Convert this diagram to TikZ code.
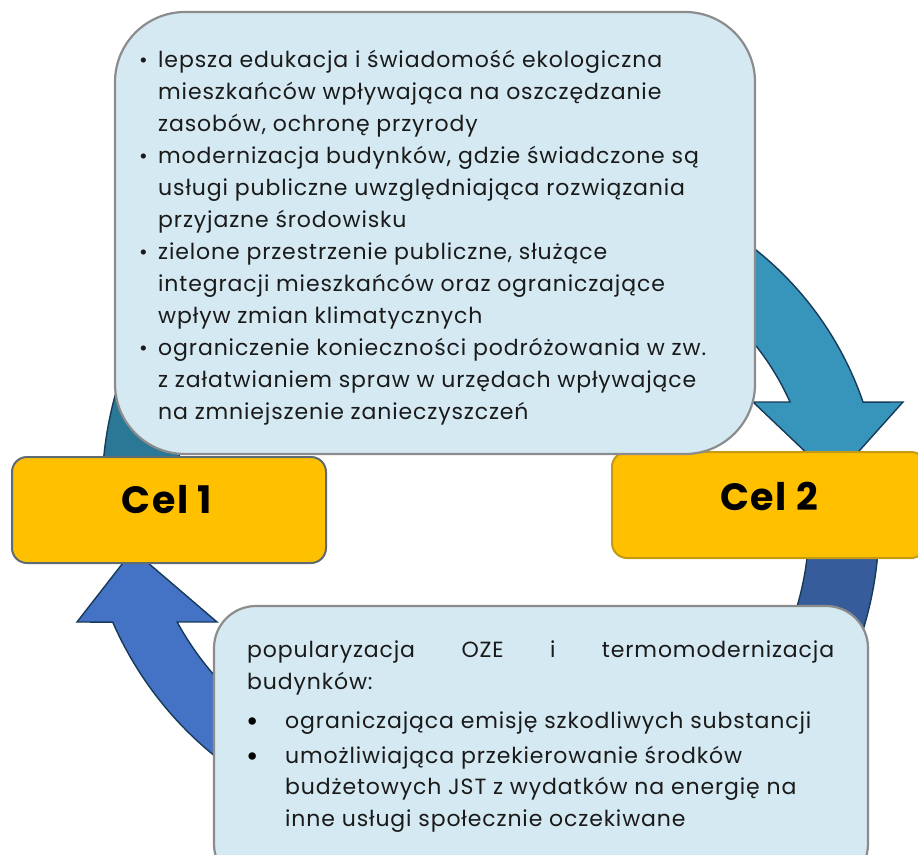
\documentclass[tikz,border=0pt]{standalone}
\usepackage{fontspec}
\setmainfont{Poppins}[LetterSpace=4]
\usetikzlibrary{calc}
\definecolor{infofill}{HTML}{D4E9F2}
\definecolor{infoline}{HTML}{8C8C8C}
\definecolor{gold}{HTML}{FFC000}
\definecolor{celAline}{HTML}{5F6B73}
\definecolor{celBline}{HTML}{C49A12}
\definecolor{arA}{HTML}{2B7896}
\definecolor{arB}{HTML}{3794BA}
\definecolor{arC}{HTML}{365C9C}
\definecolor{arD}{HTML}{4472C4}
\definecolor{arline}{HTML}{173A58}
\definecolor{txtc}{HTML}{1A1A1A}
\begin{document}
\begin{tikzpicture}[x=1pt,y=1pt,
  arrowshape/.style={draw=arline, line width=1.4pt, line join=miter},
  infobox/.style={draw=infoline, fill=infofill, line width=2.2pt, inner sep=0pt},
  celbox/.style={fill=gold, line width=2pt, rounded corners=15pt, minimum width=314pt, minimum height=106pt, inner sep=0pt},
  celtext/.style={inner sep=0pt, font=\fontsize{38}{38}\selectfont\bfseries, text=black},
  txt/.style={anchor=base west, inner sep=0pt, font=\fontsize{22}{22}\selectfont, text=txtc},
  bul/.style={anchor=base, inner sep=0pt, font=\fontsize{21}{21}\selectfont, text=txtc},
  bigbul/.style={anchor=base, inner sep=0pt, font=\fontsize{30}{30}\selectfont, text=black}]
\useasboundingbox (0,0) rectangle (918,-854);

% circle centres of the four curved arrows
\coordinate (cA) at (472,-493);
\coordinate (cB) at (548,-510);
\coordinate (cC) at (519,-524);
\coordinate (cD) at (438,-480);

% arrow A (teal, left, rises from Cel 1 behind the upper box)
\draw[arrowshape, fill=arA] ($(cA)+(185:370pt)$) arc[start angle=185, end angle=128, radius=370pt]
  -- ($(cA)+(128:295pt)$) arc[start angle=128, end angle=185, radius=295pt] -- cycle;

% arrow B (top right, down to Cel 2)
\coordinate (bH1) at (903,-402);
\coordinate (bTip) at (834,-479);
\coordinate (bH2) at (753,-402);
\draw[arrowshape, fill=arB] ($(cB)+(75:333pt)$) arc[start angle=75, end angle=18.9, radius=333pt]
  -- (bH1) -- (bTip) -- (bH2) -- ($(cB)+(24.05:265pt)$)
  arc[start angle=24.05, end angle=75, radius=265pt] -- cycle;

% arrow C (bottom right, from Cel 2 down behind the lower box)
\draw[arrowshape, fill=arC] ($(cC)+(10:360pt)$) arc[start angle=10, end angle=-48, radius=360pt]
  -- ($(cC)+(-48:290pt)$) arc[start angle=-48, end angle=10, radius=290pt] -- cycle;

% arrow D (bottom left, up to Cel 1)
\coordinate (dH1) at (77,-622);
\coordinate (dTip) at (133,-550);
\coordinate (dH2) at (217,-622);
\draw[arrowshape, fill=arD] ($(cD)+(203.6:355pt)$) -- (dH1) -- (dTip) -- (dH2)
  -- ($(cD)+(208.56:297pt)$) arc[start angle=208.56, end angle=245, radius=297pt]
  -- ($(cD)+(245:355pt)$) arc[start angle=245, end angle=203.6, radius=355pt] -- cycle;

% goal boxes
\node[celbox, draw=celAline] (cel1) at (169,-510) {};
\node[celbox, draw=celBline] (cel2) at (769,-505) {};
\node[celtext] (cel1t) at (167,-500) {Cel 1};
\node[celtext] (cel2t) at (769,-496) {Cel 2};

% information boxes
\node[infobox, rounded corners=70pt, minimum width=640pt, minimum height=442pt] (top) at (435,-233) {};
\node[infobox, rounded corners=42pt, minimum width=654pt, minimum height=280pt] (bot) at (541,-746) {};

% upper box text
\node[bul] (tb1) at (143.5,-67) {•};
\node[txt] (t1) at (158,-67) {lepsza edukacja i świadomość ekologiczna};
\node[txt] (t2) at (158,-99) {mieszkańców wpływająca na oszczędzanie};
\node[txt] (t3) at (158,-131) {zasobów, ochronę przyrody};
\node[bul] (tb2) at (143.5,-163) {•};
\node[txt] (t4) at (158,-163) {modernizacja budynków, gdzie świadczone są};
\node[txt] (t5) at (158,-195) {usługi publiczne uwzględniająca rozwiązania};
\node[txt] (t6) at (158,-227) {przyjazne środowisku};
\node[bul] (tb3) at (143.5,-259) {•};
\node[txt] (t7) at (158,-259) {zielone przestrzenie publiczne, służące};
\node[txt] (t8) at (158,-291) {integracji mieszkańców oraz ograniczające};
\node[txt] (t9) at (158,-323) {wpływ zmian klimatycznych};
\node[bul] (tb4) at (143.5,-355) {•};
\node[txt] (t10) at (158,-355) {ograniczenie konieczności podróżowania w zw.};
\node[txt] (t11) at (158,-387) {z załatwianiem spraw w urzędach wpływające};
\node[txt] (t12) at (158,-419) {na zmniejszenie zanieczyszczeń};

% lower box text
\node[txt] (b1) at (247,-657) {\makebox[587pt][s]{popularyzacja OZE i termomodernizacja}};
\node[txt] (b2) at (247,-689) {budynków:};
\node[bigbul] (bb1) at (253,-731) {•};
\node[txt] (b3) at (285,-728) {ograniczająca emisję szkodliwych substancji};
\node[bigbul] (bb2) at (253,-766) {•};
\node[txt] (b4) at (285,-763) {umożliwiająca przekierowanie środków};
\node[txt] (b5) at (285,-794) {budżetowych JST z wydatków na energię na};
\node[txt] (b6) at (285,-826) {inne usługi społecznie oczekiwane};
\end{tikzpicture}
\end{document}
